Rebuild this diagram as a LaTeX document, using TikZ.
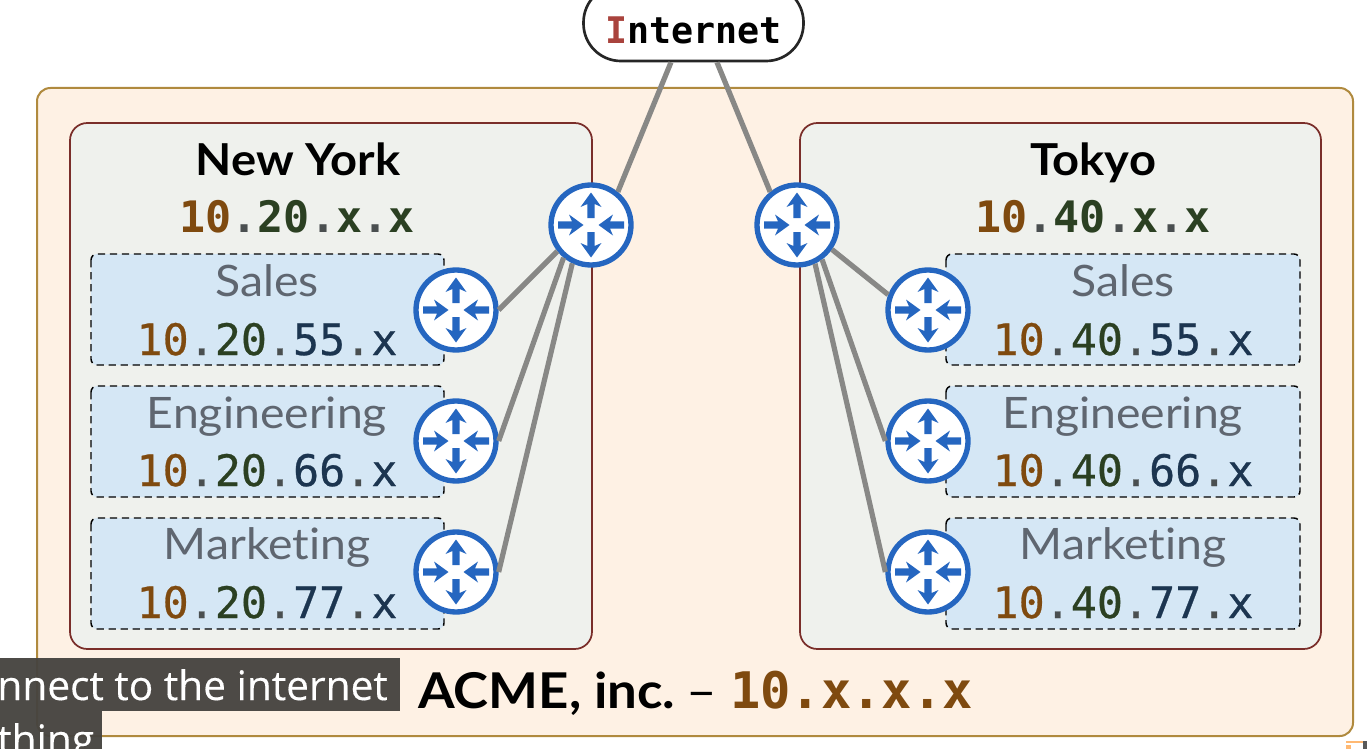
\documentclass[tikz,border=0pt]{standalone}
\usepackage{fontspec}
\setmainfont{Lato}[Ligatures=NoCommon,FakeStretch=1.07]
\newfontfamily\monof{DejaVu Sans Mono}
\newfontfamily\monomed{DejaVu Sans Mono}[FakeBold=0.6]
\newfontfamily\capf{Open Sans}[FakeBold=0.3]
\usetikzlibrary{calc}
\definecolor{framefill}{HTML}{FEF1E4}
\definecolor{framedraw}{HTML}{B08A3E}
\definecolor{sitefill}{HTML}{EFF1ED}
\definecolor{sitedraw}{HTML}{7A2E2A}
\definecolor{subfill}{HTML}{D5E7F5}
\definecolor{routerblue}{HTML}{2566C0}
\definecolor{linkgrey}{HTML}{888886}
\definecolor{cbrown}{HTML}{7F4A0F}
\definecolor{cgreen}{HTML}{2B4022}
\definecolor{cnavy}{HTML}{1C3550}
\definecolor{cdot}{HTML}{4A4F50}
\definecolor{cgreyt}{HTML}{5F6670}
\definecolor{cred}{HTML}{A9433D}
\definecolor{capbg}{HTML}{464440}
\tikzset{
  x=0.75pt,y=-0.75pt,
  framebox/.style={draw=framedraw,fill=framefill,line width=1.5pt,rounded corners=10pt},
  sitebox/.style={draw=sitedraw,fill=sitefill,line width=1.3pt,rounded corners=13pt},
  subbox/.style={draw=black,fill=subfill,line width=1.1pt,dash pattern=on 5.5pt off 3.5pt,rounded corners=4.5pt},
  routernode/.style={circle,draw=routerblue,fill=white,line width=4pt,minimum size=60pt,inner sep=0pt},
  link/.style={draw=linkgrey,line width=3.9pt},
  sitelabel/.style={anchor=base,font=\fontsize{33}{38}\selectfont\bfseries,text=black,inner sep=0pt},
  sitenet/.style={anchor=base,font=\monof\fontsize{32.5}{38}\selectfont\bfseries,inner sep=0pt},
  sublabel/.style={anchor=base,font=\fontsize{32.5}{38}\selectfont,text=cgreyt,inner sep=0pt},
  subnet/.style={anchor=base,font=\monomed\fontsize{32.5}{38}\selectfont,inner sep=0pt},
  caption/.style={font=\capf\fontsize{30.5}{36}\selectfont,text=white,inner sep=0pt},
  routerarrow/.pic={\fill[routerblue] (0,-3.6) -- (14,-3.6) -- (11,-10.5) -- (25.5,0) -- (11,10.5) -- (14,3.6) -- (0,3.6) -- cycle;}
}
\newcommand{\routerat}[3]{%
  \node[routernode] (#1) at (#2,#3) {};
  \pic[rotate=90] at ($(#1)+(0,-7)$) {routerarrow};
  \pic[rotate=-90] at ($(#1)+(0,7)$) {routerarrow};
  \pic at ($(#1)+(-33,0)$) {routerarrow};
  \pic[rotate=180] at ($(#1)+(33,0)$) {routerarrow};
}
\newcommand{\netA}[2]{{\color{cbrown}10}{\color{cdot}.}{\color{cgreen}#1}{\color{cdot}.}{\color{cgreen}x}{\color{cdot}.}{\color{cgreen}x}}
\newcommand{\netB}[2]{{\color{cbrown}10}{\color{cdot}.}{\color{cgreen}#1}{\color{cdot}.}{\color{cnavy}#2}{\color{cdot}.}{\color{cnavy}x}}
\begin{document}
\begin{tikzpicture}
\useasboundingbox (0,0) rectangle (1367,749);
\fill[white] (0,0) rectangle (1367,749);
\draw[framebox] (37,88) rectangle (1353,736);
\draw[sitebox] (70,123) rectangle (592,649);
\draw[sitebox] (800,123) rectangle (1321,649);
\foreach \t/\b in {254/365,386/497,518/629}{
  \draw[subbox] (91,\t) rectangle (444,\b);
  \draw[subbox] (946,\t) rectangle (1300,\b);
}
% Internet
\node[draw=black!85,fill=white,line width=2pt,rounded corners=28pt,minimum width=165pt,minimum height=57pt,inner sep=0pt,
  font=\monof\fontsize{27.5}{32}\selectfont\bfseries] (inet) at (693.5,23) {\smash{\raisebox{-15.75pt}{{\color{cred}I}nternet}}};
% Labels
\node[sitelabel] (nyt) at (298,175) {New York};
\node[sitenet] (nyn) at (297,232) {\netA{20}{}};
\node[sitelabel] (tkt) at (1093,175) {Tokyo};
\node[sitenet] (tkn) at (1093,232) {\netA{40}{}};
\node[sublabel] (s1) at (267,296) {Sales};
\node[subnet] (n1) at (267,355) {\netB{20}{55}};
\node[sublabel] (s2) at (267,428) {Engineering};
\node[subnet] (n2) at (267,486) {\netB{20}{66}};
\node[sublabel] (s3) at (267,559) {Marketing};
\node[subnet] (n3) at (267,618) {\netB{20}{77}};
\node[sublabel] (s4) at (1123,296) {Sales};
\node[subnet] (n4) at (1123,355) {\netB{40}{55}};
\node[sublabel] (s5) at (1123,428) {Engineering};
\node[subnet] (n5) at (1123,486) {\netB{40}{66}};
\node[sublabel] (s6) at (1123,559) {Marketing};
\node[subnet] (n6) at (1123,618) {\netB{40}{77}};
% Routers
\routerat{ny}{591}{225}
\routerat{nya}{456}{310}
\routerat{nyb}{456}{441}
\routerat{nyc}{456}{572}
\routerat{tk}{797}{225}
\routerat{tka}{928}{310}
\routerat{tkb}{928}{441}
\routerat{tkc}{928}{572}
% Links
\draw[link] ([xshift=-16.9pt]inet.south) -- (ny.51);
\draw[link] ([xshift=17.6pt]inet.south) -- (tk.129);
\draw[link] (ny.218) -- (nya.east);
\draw[link] (ny.230) -- (nyb.east);
\draw[link] (ny.244) -- (nyc.east);
\draw[link] (tk.325) -- (tka.159);
\draw[link] (tk.306) -- (tkb.west);
\draw[link] (tk.295) -- (tkc.west);
% Bottom title
\node[anchor=base west,inner sep=0pt,font=\fontsize{37}{44}\selectfont\bfseries] (acme) at (418,708) {ACME, inc.};
\node[anchor=base,inner sep=0pt,font=\fontsize{37}{44}\selectfont] (dash) at (702,708) {--};
\node[anchor=base west,inner sep=0pt,font=\monof\fontsize{37.8}{44}\selectfont\bfseries,text=cbrown] (acmenet) at (730,708) {10.x.x.x};
% Caption overlay
\fill[capbg,fill opacity=0.96] (0,658) rectangle (400,711);
\fill[capbg,fill opacity=0.96] (0,711) rectangle (102,749);
\begin{scope}
\clip (0,658) rectangle (400,749);
\node[caption,anchor=base east] (cap1) at (388,700) {nnect to the internet};
\node[caption,anchor=base west] (cap2) at (-3,754) {thing};
\end{scope}
% corner artefact
\fill[orange!55!white] (1346,741) rectangle (1363,743);
\fill[orange!55!white] (1346,745) rectangle (1351,749);
\fill[black!65] (1363,741) rectangle (1367,749);
\end{tikzpicture}
\end{document}
